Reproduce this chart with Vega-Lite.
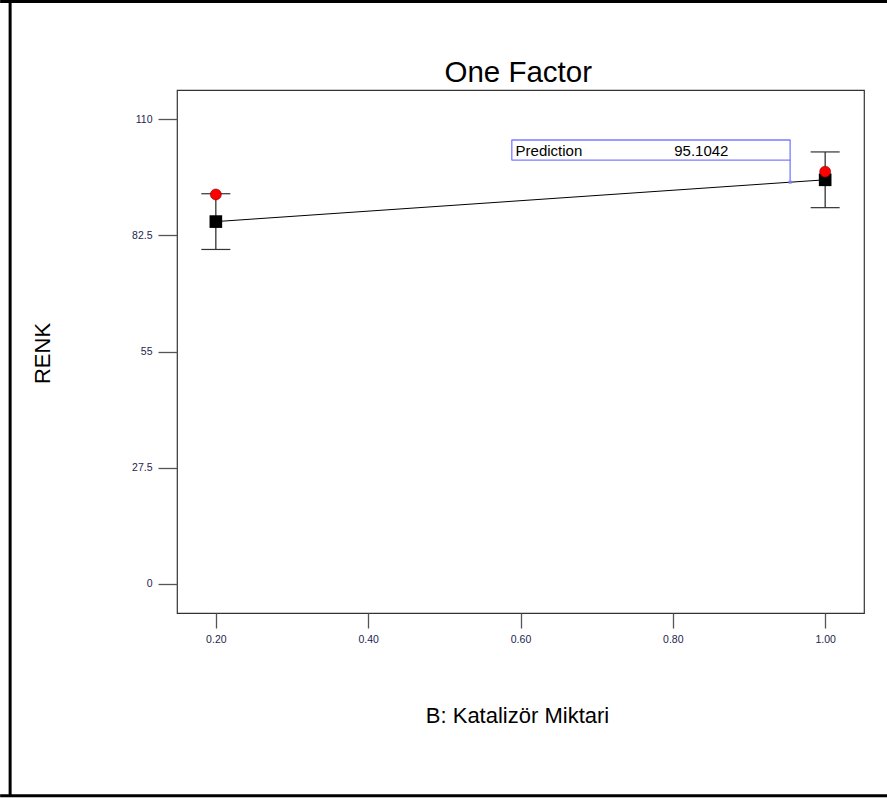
{
  "$schema": "https://vega.github.io/schema/vega-lite/v6.json",
  "autosize": "none",
  "width": 687,
  "height": 523,
  "padding": {"left": 177, "top": 90, "right": 23, "bottom": 185},
  "background": "white",
  "config": {
    "font": "Liberation Sans",
    "view": {"stroke": "#333", "strokeWidth": 1.2},
    "axis": {"grid": false, "domain": false, "tickColor": "#555", "tickWidth": 1.3, "labelColor": "#1e1e50", "labelFont": "Liberation Sans", "labelFontSize": 10.5, "titleFont": "Liberation Sans", "titleFontWeight": "normal", "titleColor": "#000"}
  },
  "datasets": {
    "points": [
      {"B": 0.2, "fit": 85.77, "lo": 79.17, "hi": 92.37, "actual": 92.2},
      {"B": 1.0, "fit": 95.67, "lo": 89.07, "hi": 102.27, "actual": 97.6}
    ],
    "prediction": [
      {"B": 0.954, "Prediction": 95.1042, "label": "Prediction", "valueText": "95.1042", "title": "One Factor"}
    ]
  },
  "layer": [
    {
      "data": {"name": "points"},
      "mark": {"type": "line", "color": "#000", "strokeWidth": 1},
      "encoding": {
        "x": {"field": "B", "type": "quantitative",
          "scale": {"domain": [0.149, 1.051], "nice": false, "zero": false},
          "axis": {"values": [0.2, 0.4, 0.6, 0.8, 1.0], "format": ".2f", "tickSize": 15, "labelPadding": 6, "title": "B: Katalizör Miktari", "titleFontSize": 22, "titleX": 340, "titleY": 109, "titleBaseline": "alphabetic", "titleAlign": "center"}},
        "y": {"field": "fit", "type": "quantitative",
          "scale": {"domain": [-6.94, 116.94], "nice": false, "zero": false},
          "axis": {"values": [0, 27.5, 55, 82.5, 110], "labelExpr": "datum.value + ''", "tickSize": 19, "labelPadding": 6, "title": "RENK", "titleFontSize": 22, "titleAngle": -90, "titleX": -135, "titleY": 263, "titleAlign": "center", "titleBaseline": "middle"}}
      }
    },
    {
      "data": {"name": "prediction"},
      "mark": {"type": "text", "align": "center", "baseline": "alphabetic", "fontSize": 29.5, "color": "#000", "font": "Liberation Sans"},
      "encoding": {
        "x": {"datum": 0.597, "type": "quantitative"},
        "y": {"datum": 118.9, "type": "quantitative"},
        "text": {"field": "title"}
      }
    },
    {
      "data": {"name": "prediction"},
      "mark": {"type": "tick", "orient": "vertical", "size": 794, "thickness": 3, "color": "#000", "opacity": 1},
      "encoding": {
        "x": {"datum": -0.0701, "type": "quantitative"},
        "y": {"datum": 43.85, "type": "quantitative"}
      }
    },
    {
      "data": {"name": "prediction"},
      "mark": {"type": "tick", "orient": "horizontal", "size": 900, "thickness": 3, "color": "#000", "opacity": 1},
      "encoding": {
        "x": {"datum": 0.5076, "type": "quantitative"},
        "y": {"datum": 137.9, "type": "quantitative"}
      }
    },
    {
      "data": {"name": "prediction"},
      "mark": {"type": "tick", "orient": "horizontal", "size": 900, "thickness": 3, "color": "#000", "opacity": 1},
      "encoding": {
        "x": {"datum": 0.5076, "type": "quantitative"},
        "y": {"datum": -50.2, "type": "quantitative"}
      }
    },
    {
      "data": {"name": "points"},
      "mark": {"type": "rule", "color": "#222", "strokeWidth": 1.2},
      "encoding": {
        "x": {"field": "B", "type": "quantitative"},
        "y": {"field": "lo", "type": "quantitative"},
        "y2": {"field": "hi"}
      }
    },
    {
      "data": {"name": "points"},
      "mark": {"type": "tick", "orient": "horizontal", "size": 29, "thickness": 1.2, "color": "#333", "opacity": 1},
      "encoding": {
        "x": {"field": "B", "type": "quantitative"},
        "y": {"field": "lo", "type": "quantitative"}
      }
    },
    {
      "data": {"name": "points"},
      "mark": {"type": "tick", "orient": "horizontal", "size": 29, "thickness": 1.2, "color": "#333", "opacity": 1},
      "encoding": {
        "x": {"field": "B", "type": "quantitative"},
        "y": {"field": "hi", "type": "quantitative"}
      }
    },
    {
      "data": {"name": "points"},
      "mark": {"type": "square", "filled": true, "color": "#000", "size": 160, "opacity": 1},
      "encoding": {
        "x": {"field": "B", "type": "quantitative"},
        "y": {"field": "fit", "type": "quantitative"}
      }
    },
    {
      "data": {"name": "points"},
      "mark": {"type": "circle", "fill": "#ff0000", "stroke": "#700", "strokeWidth": 0.6, "size": 120, "opacity": 1, "fillOpacity": 1},
      "encoding": {
        "x": {"field": "B", "type": "quantitative"},
        "y": {"field": "actual", "type": "quantitative"}
      }
    },
    {
      "data": {"name": "prediction"},
      "mark": {"type": "rule", "color": "#7b7bff", "strokeWidth": 1.3},
      "encoding": {
        "x": {"field": "B", "type": "quantitative"},
        "y": {"field": "Prediction", "type": "quantitative"},
        "y2": {"datum": 105.1}
      }
    },
    {
      "data": {"name": "prediction"},
      "mark": {"type": "tick", "orient": "vertical", "size": 20, "thickness": 1.3, "color": "#7b7bff", "opacity": 1},
      "encoding": {
        "x": {"datum": 0.5886, "type": "quantitative"},
        "y": {"datum": 102.725, "type": "quantitative"}
      }
    },
    {
      "data": {"name": "prediction"},
      "mark": {"type": "tick", "orient": "horizontal", "size": 279, "thickness": 1.3, "color": "#7b7bff", "opacity": 1},
      "encoding": {
        "x": {"datum": 0.7713, "type": "quantitative"},
        "y": {"datum": 105.1, "type": "quantitative"}
      }
    },
    {
      "data": {"name": "prediction"},
      "mark": {"type": "tick", "orient": "horizontal", "size": 279, "thickness": 1.3, "color": "#7b7bff", "opacity": 1},
      "encoding": {
        "x": {"datum": 0.7713, "type": "quantitative"},
        "y": {"datum": 100.35, "type": "quantitative"}
      }
    },
    {
      "data": {"name": "prediction"},
      "mark": {"type": "square", "filled": true, "color": "#7b7bff", "size": 9, "opacity": 1},
      "encoding": {
        "x": {"field": "B", "type": "quantitative"},
        "y": {"field": "Prediction", "type": "quantitative"}
      }
    },
    {
      "data": {"name": "prediction"},
      "mark": {"type": "text", "align": "left", "baseline": "middle", "fontSize": 15, "color": "#000", "font": "Liberation Sans"},
      "encoding": {
        "x": {"datum": 0.5935, "type": "quantitative"},
        "y": {"datum": 102.6, "type": "quantitative"},
        "text": {"field": "label"}
      }
    },
    {
      "data": {"name": "prediction"},
      "mark": {"type": "text", "align": "left", "baseline": "middle", "fontSize": 15, "color": "#000", "font": "Liberation Sans"},
      "encoding": {
        "x": {"datum": 0.8018, "type": "quantitative"},
        "y": {"datum": 102.6, "type": "quantitative"},
        "text": {"field": "valueText"}
      }
    }
  ]
}
